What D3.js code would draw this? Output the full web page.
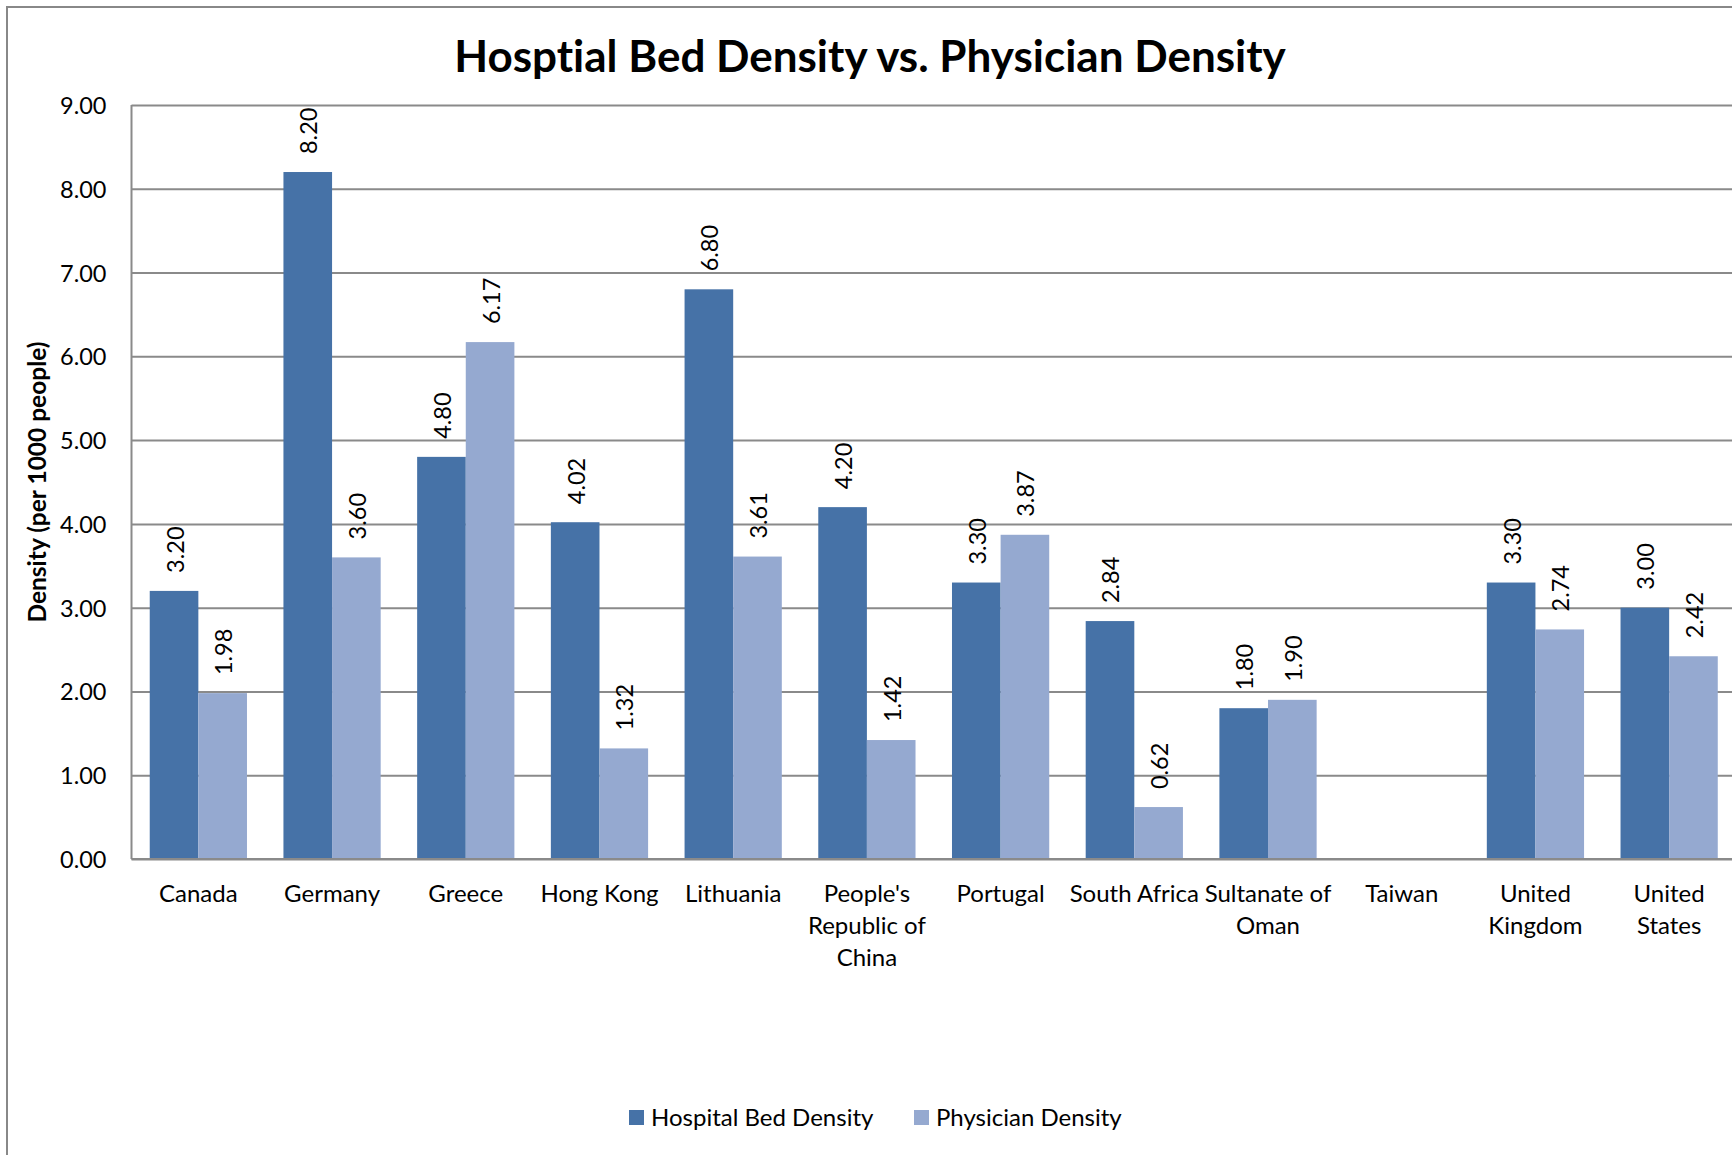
<!DOCTYPE html>
<html>
<head>
<meta charset="utf-8">
<script src="https://cdn.jsdelivr.net/npm/d3@7/dist/d3.min.js"></script>
<style>
  html, body { margin: 0; padding: 0; background: #fff; }
  svg { display: block; }
  text { font-family: Lato, "Open Sans", sans-serif; fill: #000; font-variant-ligatures: none; }
</style>
</head>
<body>
<svg id="chart" width="1732" height="1155"></svg>
<script>
// Chart data
const categories = ["Canada", "Germany", "Greece", "Hong Kong", "Lithuania",
  "People's Republic of China", "Portugal", "South Africa", "Sultanate of Oman",
  "Taiwan", "United Kingdom", "United States"];
const seriesNames = ["Hospital Bed Density", "Physician Density"];
const hospitalBedDensity = [3.20, 8.20, 4.80, 4.02, 6.80, 4.20, 3.30, 2.84, 1.80, null, 3.30, 3.00];
const physicianDensity   = [1.98, 3.60, 6.17, 1.32, 3.61, 1.42, 3.87, 0.62, 1.90, null, 2.74, 2.42];
const yTicks = [0, 1, 2, 3, 4, 5, 6, 7, 8, 9];
const titleText = "Hosptial Bed Density vs. Physician Density";
const yTitle = "Density (per 1000 people)";

const colors = ["#4672A7", "#95A9D0"];
const seriesValues = [hospitalBedDensity, physicianDensity];

const svg = d3.select("#chart");
const W = 1732, H = 1155;
const plot = { left: 131.5, right: 1736, top: 105, bottom: 859 };

// Outer chart frame (only top and left edges fall inside the view)
svg.append("path")
  .attr("d", `M7,${H} L7,7 L${W},7`)
  .attr("fill", "none").attr("stroke", "#888").attr("stroke-width", 2);

const x = d3.scaleBand().domain(categories).range([plot.left, plot.right]).paddingInner(0).paddingOuter(0);
const groupFrac = 2 / 2.75;
const xs = d3.scaleBand().domain(seriesNames).range([0, x.bandwidth() * groupFrac]);
const groupOffset = x.bandwidth() * (1 - groupFrac) / 2;
const y = d3.scaleLinear().domain([0, 9]).range([plot.bottom, plot.top]);

// Gridlines and value axis labels
const yAxis = d3.axisLeft(y).tickValues(yTicks).tickSize(-(plot.right - plot.left)).tickFormat(d3.format(".2f"));
const gy = svg.append("g").attr("transform", `translate(${plot.left},0)`).call(yAxis);
gy.select(".domain").remove();
gy.selectAll(".tick line").attr("stroke", "#8a8a8a").attr("stroke-width", 2);
gy.selectAll(".tick text")
  .attr("x", -25).attr("dy", "0.36em")
  .style("font-size", "23.5px").style("font-family", "Lato, sans-serif").attr("fill", "#000");

// Bars
const barGroups = svg.append("g").selectAll("g")
  .data(categories).join("g")
  .attr("transform", d => `translate(${x(d) + groupOffset},0)`);

seriesNames.forEach((s, si) => {
  barGroups.filter((d, i) => seriesValues[si][i] != null)
    .append("rect")
    .attr("x", xs(s))
    .attr("width", xs.bandwidth())
    .attr("y", (d) => y(seriesValues[si][categories.indexOf(d)]))
    .attr("height", (d) => y(0) - y(seriesValues[si][categories.indexOf(d)]))
    .attr("fill", colors[si]);
});

// Value labels, rotated above each bar
seriesNames.forEach((s, si) => {
  barGroups.filter((d, i) => seriesValues[si][i] != null)
    .append("text")
    .attr("transform", (d) => {
      const v = seriesValues[si][categories.indexOf(d)];
      return `translate(${xs(s) + xs.bandwidth() / 2 + 1},${y(v) - 18}) rotate(-90)`;
    })
    .attr("dy", "0.36em")
    .attr("text-anchor", "start")
    .style("font-size", "23.5px")
    .text((d) => d3.format(".2f")(seriesValues[si][categories.indexOf(d)]));
});

// Axis lines
svg.append("line")
  .attr("x1", plot.left).attr("x2", plot.left).attr("y1", plot.top).attr("y2", plot.bottom)
  .attr("stroke", "#8a8a8a").attr("stroke-width", 2);
svg.append("line")
  .attr("x1", plot.left).attr("x2", plot.right).attr("y1", plot.bottom).attr("y2", plot.bottom)
  .attr("stroke", "#8a8a8a").attr("stroke-width", 2);

// Category labels, wrapped to the band width
const maxLabelWidth = x.bandwidth() + 2;
const catLabels = svg.append("g").selectAll("text")
  .data(categories).join("text")
  .attr("x", d => x(d) + x.bandwidth() / 2)
  .attr("y", 902)
  .attr("text-anchor", "middle")
  .style("font-size", "24px");

catLabels.each(function (d) {
  const el = d3.select(this);
  const words = d.split(" ");
  const lines = [];
  let line = [];
  const probe = el.append("tspan");
  words.forEach(w => {
    const trial = line.concat([w]).join(" ");
    probe.text(trial);
    if (line.length && probe.node().getComputedTextLength() > maxLabelWidth) {
      lines.push(line.join(" "));
      line = [w];
    } else {
      line.push(w);
    }
  });
  lines.push(line.join(" "));
  probe.remove();
  const cx = el.attr("x");
  lines.forEach((l, i) => {
    el.append("tspan").attr("x", cx).attr("dy", i === 0 ? 0 : 32).text(l);
  });
});

// Title
svg.append("text")
  .attr("x", 870).attr("y", 72)
  .attr("text-anchor", "middle")
  .style("font-size", "44px").style("font-weight", "bold")
  .text(titleText);

// Y axis title
svg.append("text")
  .attr("transform", `translate(37,482) rotate(-90)`)
  .attr("text-anchor", "middle")
  .attr("dy", "0.36em")
  .style("font-size", "24.5px").style("font-weight", "bold")
  .text(yTitle);

// Legend
const legendItems = [
  { name: seriesNames[0], color: colors[0], x: 629 },
  { name: seriesNames[1], color: colors[1], x: 914 }
];
const lg = svg.append("g").selectAll("g").data(legendItems).join("g")
  .attr("transform", d => `translate(${d.x},1110)`);
lg.append("rect").attr("width", 15).attr("height", 15).attr("fill", d => d.color);
lg.append("text").attr("x", 22).attr("y", 7.5).attr("dy", "0.36em")
  .style("font-size", "24px").text(d => d.name);
</script>
</body>
</html>
